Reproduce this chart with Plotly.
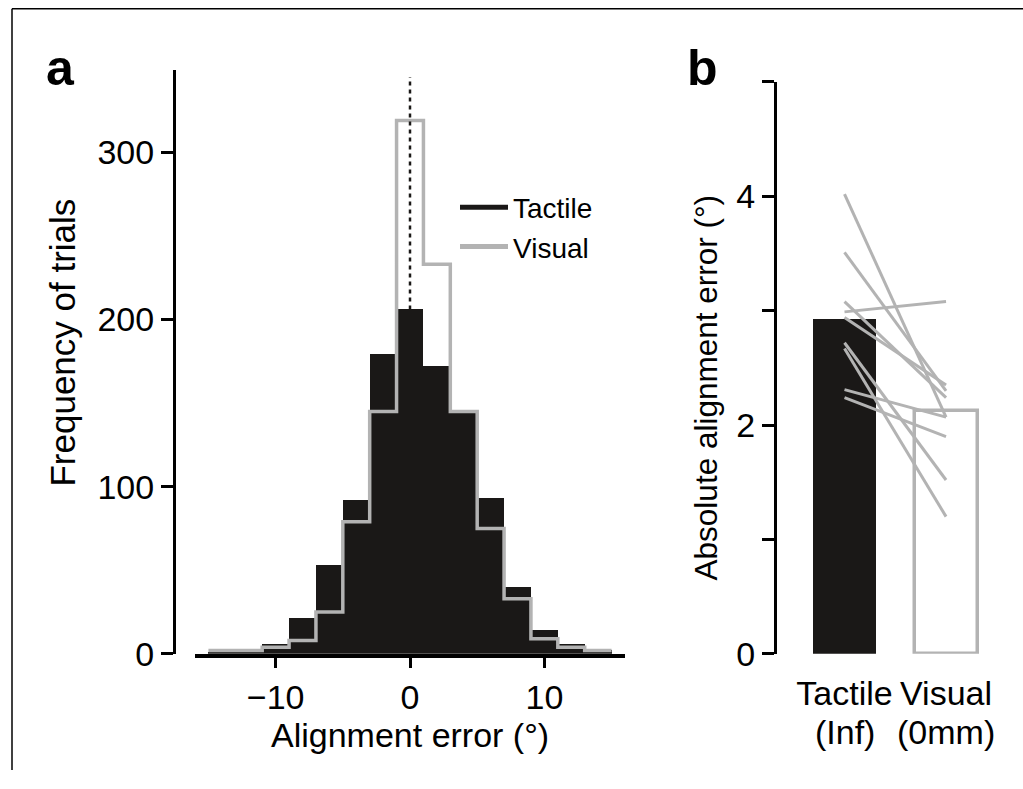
import plotly.graph_objects as go

W, H = 1023, 789

# ---- Panel a: histogram data ----
bin_centers = [-14, -12, -10, -8, -6, -4, -2, 0, 2, 4, 6, 8, 10, 12, 14]
tactile_counts = [1, 1, 6, 21, 53, 92, 179, 206, 172, 145, 93, 40, 14, 6, 2]
visual_counts = [2, 2, 4, 8, 25, 79, 145, 319, 233, 145, 75, 33, 9, 4, 2]
bin_width = 2
x_ticks_a = [-10, 0, 10]
y_ticks_a = [0, 100, 200, 300]

# ---- Panel b: absolute alignment error ----
conditions = [0, 1]
cond_names = ["Tactile", "Visual"]
cond_sub = ["(Inf)", "(0mm)"]
mean_error = [2.93, 2.125]
subj_tactile = [4.02, 3.51, 3.08, 2.99, 2.94, 2.72, 2.67, 2.31, 2.24]
subj_visual = [2.07, 2.30, 2.24, 3.08, 2.35, 1.52, 1.20, 2.07, 1.90]
y_ticks_b = [0, 1, 2, 3, 4, 5]
y_ticktext_b = ["0", "", "2", "", "4", ""]

BLACK = "#1a1817"
GRAY = "#b3b3b3"
FONT = "Liberation Sans, Arial, sans-serif"


def px(x):
    return x / W


def py(y):
    return 1 - y / H


fig = go.Figure()

# tactile histogram (filled)
fig.add_trace(go.Bar(
    x=bin_centers, y=tactile_counts, width=bin_width,
    marker=dict(color=BLACK, line=dict(width=0)),
    xaxis="x", yaxis="y", showlegend=False))

# visual histogram (step outline)
edges = [c - bin_width / 2 for c in bin_centers] + [bin_centers[-1] + bin_width / 2]
step_y = visual_counts + [visual_counts[-1]]
fig.add_trace(go.Scatter(
    x=edges, y=step_y, mode="lines", line=dict(color=GRAY, width=3.5, shape="hv"),
    xaxis="x", yaxis="y", showlegend=False))

# zero reference dotted line
fig.add_trace(go.Scatter(
    x=[0, 0], y=[tactile_counts[bin_centers.index(0)], 345], mode="lines",
    line=dict(color=BLACK, width=2.5, dash="4px,4px"),
    xaxis="x", yaxis="y", showlegend=False))

# legend entries
fig.add_trace(go.Scatter(x=[None], y=[None], mode="lines", name="Tactile",
                         line=dict(color=BLACK, width=5), xaxis="x", yaxis="y"))
fig.add_trace(go.Scatter(x=[None], y=[None], mode="lines", name="Visual",
                         line=dict(color=GRAY, width=5), xaxis="x", yaxis="y"))

# panel b bars
fig.add_trace(go.Bar(
    x=conditions, y=mean_error, width=0.62,
    marker=dict(color=[BLACK, "white"], line=dict(color=[BLACK, GRAY], width=[0, 3.5])),
    xaxis="x2", yaxis="y2", showlegend=False))

# subject lines
for t, v in zip(subj_tactile, subj_visual):
    fig.add_trace(go.Scatter(
        x=conditions, y=[t, v], mode="lines", line=dict(color=GRAY, width=3),
        xaxis="x2", yaxis="y2", showlegend=False))

axis_common = dict(showgrid=False, zeroline=False, showline=True, linecolor="black",
                   ticks="outside", tickcolor="black", ticklen=12, tickwidth=3,
                   tickfont=dict(size=34, color="black", family=FONT))

annotations = [
    dict(text="Frequency of trials", x=px(63), y=py(351), xanchor="center", yanchor="middle",
         textangle=-90, font=dict(size=35)),
    dict(text="Alignment error (°)", x=px(410), y=py(753), xanchor="center", yanchor="middle",
         font=dict(size=34)),
    dict(text="Absolute alignment error (°)", x=px(706), y=py(397), xanchor="center",
         yanchor="middle", textangle=-90, font=dict(size=31.5)),
    dict(text="<b>a</b>", x=px(60), y=py(70), xanchor="center", yanchor="middle",
         font=dict(size=50)),
    dict(text="<b>b</b>", x=px(702), y=py(70), xanchor="center", yanchor="middle",
         font=dict(size=50)),
]
# second line of the panel-b category labels, placed under each category
for c, sub in zip(conditions, cond_sub):
    annotations.append(dict(text=sub, x=c, xref="x2", y=py(750), yref="paper",
                            xanchor="center", yanchor="middle", font=dict(size=34)))
for a in annotations:
    a.setdefault("xref", "paper")
    a.setdefault("yref", "paper")
    a["showarrow"] = False
    a["font"].update(color="black", family=FONT)

xaxis_a = dict(axis_common, ticklen=10)

fig.update_layout(
    width=W, height=H,
    margin=dict(l=0, r=0, t=0, b=0),
    paper_bgcolor="white", plot_bgcolor="rgba(0,0,0,0)",
    font=dict(family=FONT, color="black"),
    bargap=0,
    xaxis=dict(domain=[px(195), px(625)], range=[-16, 16], anchor="y",
               tickvals=x_ticks_a, linewidth=4, **xaxis_a),
    yaxis=dict(domain=[py(670), py(72)], range=[0, 349], anchor="free", position=px(174),
               tickvals=y_ticks_a, linewidth=3, **axis_common),
    xaxis2=dict(domain=[px(777), px(1010)], range=[-0.665, 1.63], anchor="y2",
                tickvals=conditions, ticktext=cond_names, showgrid=False, zeroline=False,
                showline=False, ticks="outside", ticklen=9, tickcolor="rgba(0,0,0,0)",
                tickfont=dict(size=34, color="black", family=FONT)),
    yaxis2=dict(domain=[py(670), py(84)], range=[0, 5], anchor="x2",
                tickvals=y_ticks_b, ticktext=y_ticktext_b, linewidth=3, **axis_common),
    legend=dict(x=px(455), y=py(187), xanchor="left", yanchor="top",
                font=dict(size=28, color="black", family=FONT),
                itemwidth=48, bgcolor="rgba(0,0,0,0)", tracegroupgap=0),
    annotations=annotations,
    shapes=[
        dict(type="line", xref="paper", yref="paper", x0=px(12), x1=1, y0=py(9), y1=py(9),
             line=dict(color="black", width=1.5)),
        dict(type="line", xref="paper", yref="paper", x0=px(12), x1=px(12), y0=py(9), y1=0,
             line=dict(color="black", width=1.5)),
    ],
)

fig.write_html("out.html")
